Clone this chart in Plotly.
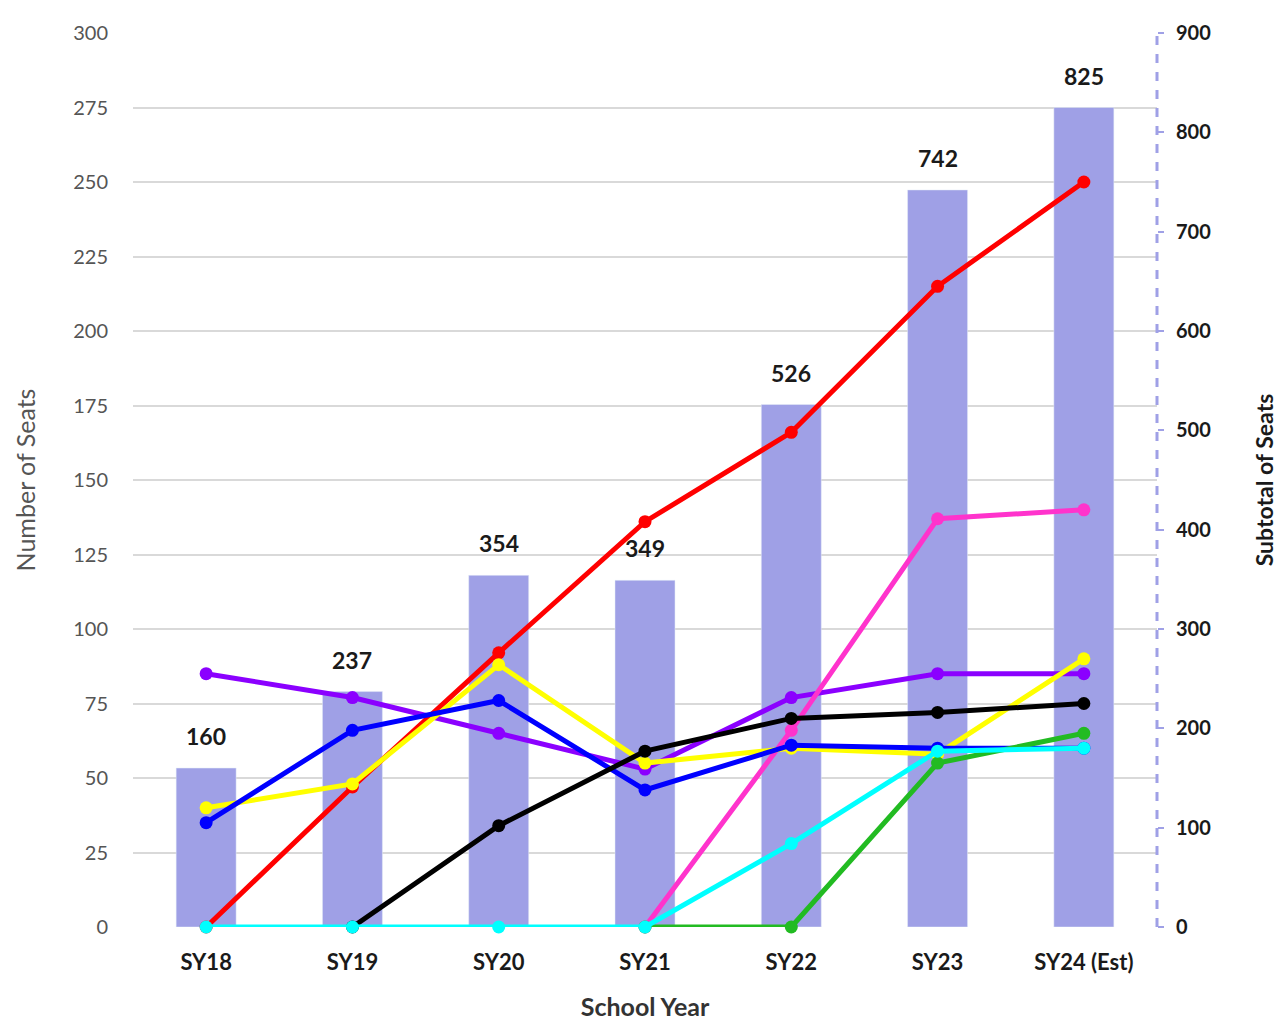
import plotly.graph_objects as go

# dados
anos = ['SY18', 'SY19', 'SY20', 'SY21', 'SY22', 'SY23', 'SY24 (Est)']
subtotal = [160, 237, 354, 349, 526, 742, 825]

vermelho = [0, 47, 92, 136, 166, 215, 250]
roxo = [85, 77, 65, 53, 77, 85, 85]
amarelo = [40, 48, 88, 55, 60, 58, 90]
azul = [35, 66, 76, 46, 61, 60, 60]
rosa = [None, None, None, 0, 66, 137, 140]
preto = [None, 0, 34, 59, 70, 72, 75]
verde = [None, None, None, 0, 0, 55, 65]
ciano = [0, 0, 0, 0, 28, 59, 60]

cor_barra = '#9FA0E6'

# ordem de desenho (de baixo para cima)
linhas = [
    ('Roxo', roxo, '#8B00FF'),
    ('Rosa', rosa, '#FF33CC'),
    ('Vermelho', vermelho, '#FF0000'),
    ('Amarelo', amarelo, '#FFFF00'),
    ('Azul', azul, '#0000FF'),
    ('Preto', preto, '#000000'),
    ('Verde', verde, '#22BB22'),
    ('Ciano', ciano, '#00FFFF'),
]

fig = go.Figure()

# barras no eixo da direita (base)
fig.add_trace(go.Bar(x=anos, y=subtotal, yaxis='y', marker_color=cor_barra,
                     width=0.41, showlegend=False))

# rótulos das barras
for ano, valor in zip(anos, subtotal):
    fig.add_annotation(x=ano, y=valor, xref='x', yref='y', text=str(valor),
                       showarrow=False, yanchor='bottom', yshift=16,
                       font=dict(family='Lato', size=23, color='#1a1a1a', weight='bold'))

# linhas no eixo da esquerda (sobreposto)
for nome, valores, cor in linhas:
    fig.add_trace(go.Scatter(x=anos, y=valores, yaxis='y2', name=nome,
                             mode='lines+markers', line=dict(color=cor, width=5),
                             marker=dict(color=cor, size=13), cliponaxis=False,
                             showlegend=False))

fig.update_layout(
    width=1287, height=1027,
    margin=dict(l=125, r=138, t=13, b=108),
    plot_bgcolor='white', paper_bgcolor='white',
    xaxis=dict(
        tickfont=dict(family='Lato', size=22, color='#1a1a1a', weight='bold'),
        ticks='outside', ticklen=16, tickcolor='rgba(0,0,0,0)',
        showline=False, showgrid=False,
        title=dict(text='School Year', standoff=24,
                   font=dict(family='Lato', size=25, color='#333333', weight='bold')),
    ),
    yaxis=dict(
        side='right', range=[0, 900], tickvals=list(range(0, 901, 100)),
        showgrid=False, zeroline=False,
        ticks='outside', ticklen=6, tickwidth=2, tickcolor=cor_barra,
        ticklabelstandoff=8,
        tickfont=dict(family='Lato', size=20, color='#1a1a1a', weight='bold'),
        title=dict(text='Subtotal of Seats', standoff=46,
                   font=dict(family='Lato', size=23, color='#1a1a1a', weight='bold')),
    ),
    yaxis2=dict(
        overlaying='y', side='left', range=[0, 300], tickvals=list(range(0, 301, 25)),
        showgrid=True, gridcolor='#D9D9D9', gridwidth=1.5, zeroline=False,
        ticklabelstandoff=24,
        tickfont=dict(family='Lato', size=20, color='#555555'),
        title=dict(text='Number of Seats', standoff=30,
                   font=dict(family='Lato', size=25, color='#555555')),
    ),
)

# linha tracejada do eixo direito
fig.add_shape(type='line', xref='paper', yref='paper', x0=1, x1=1, y0=0, y1=1,
              line=dict(color=cor_barra, width=3, dash='dash'))

fig.write_html('out.html')
